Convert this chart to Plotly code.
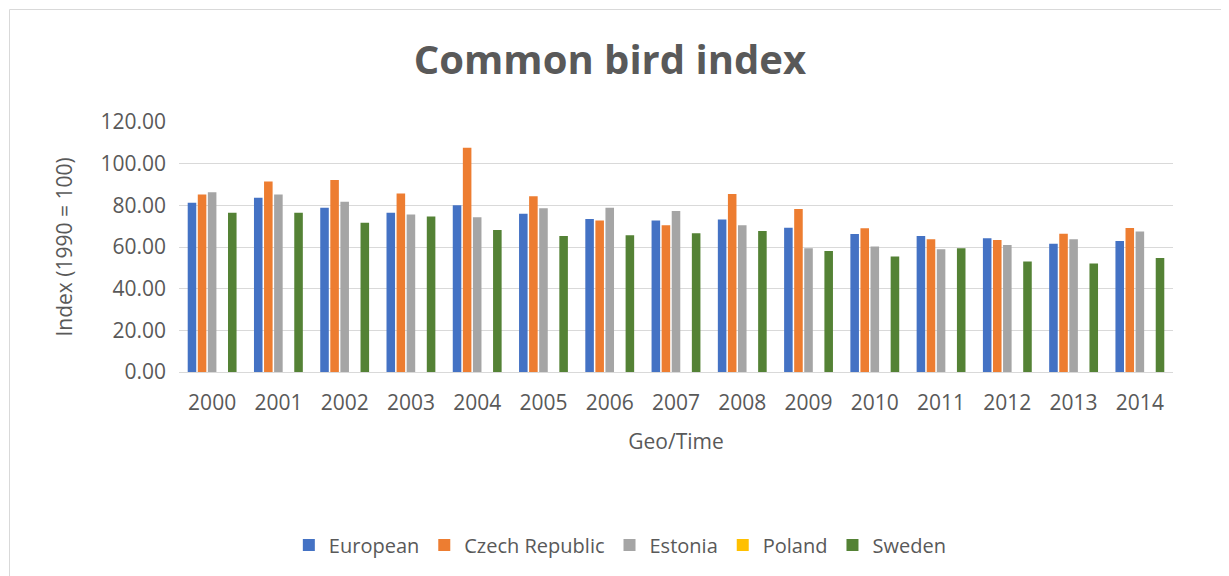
import plotly.graph_objects as go

years = [str(y) for y in range(2000, 2015)]
european = [81.2, 83.7, 78.9, 76.4, 80.1, 76.0, 73.5, 72.7, 73.2, 69.3, 66.3, 65.3, 64.2, 61.6, 62.9]
czech = [85.2, 91.4, 92.2, 85.7, 107.7, 84.4, 72.7, 70.4, 85.4, 78.3, 69.0, 63.7, 63.4, 66.4, 69.1]
estonia = [86.3, 85.2, 81.7, 75.6, 74.3, 78.6, 78.9, 77.3, 70.4, 59.4, 60.2, 58.9, 61.0, 63.7, 67.4]
poland = [None] * 15
sweden = [76.5, 76.5, 71.6, 74.6, 68.2, 65.3, 65.6, 66.6, 67.7, 58.1, 55.4, 59.4, 53.1, 52.1, 54.7]

series = [
    ("European", european, "#4472C4"),
    ("Czech Republic", czech, "#ED7D31"),
    ("Estonia", estonia, "#A5A5A5"),
    ("Poland", poland, "#FFC000"),
    ("Sweden", sweden, "#548235"),
]

FONT = "Open Sans, Liberation Sans, sans-serif"
GREY = "#595959"
fig = go.Figure()
for name, vals, col in series:
    fig.add_trace(go.Bar(x=years, y=vals, name=name, marker_color=col,
                         marker_line_width=0))

fig.update_layout(
    width=1221, height=568,
    margin=dict(l=171, r=56, t=114, b=204),
    paper_bgcolor="white", plot_bgcolor="white",
    barmode="group", bargap=0.24, bargroupgap=0.15,
    font=dict(family=FONT, color=GREY, size=20),
    title=dict(text="<b>Common bird index</b>", x=0.493, xanchor="center",
               y=0.908, yanchor="middle",
               font=dict(size=40, color=GREY, family=FONT)),
    legend=dict(orientation="h", x=0.444, xanchor="center", y=-0.692,
                yanchor="middle", font=dict(size=20, color=GREY),
                itemwidth=30, traceorder="normal"),
    showlegend=True,
)
fig.update_yaxes(range=[0, 120], dtick=20, tickformat=".2f",
                 gridcolor="#D9D9D9", gridwidth=1, zeroline=False,
                 showline=False, ticklabelstandoff=12,
                 title=dict(text="Index (1990 = 100)", standoff=22,
                            font=dict(size=21, color=GREY)),
                 tickfont=dict(size=21, color=GREY))
fig.update_xaxes(type="category", showline=True, linecolor="#D9D9D9",
                 linewidth=1, ticks="", ticklabelstandoff=12,
                 tickfont=dict(size=21, color=GREY),
                 title=dict(text="Geo/Time", standoff=19,
                            font=dict(size=21, color=GREY)))
fig.add_shape(type="rect", xref="paper", yref="paper",
              x0=-0.1705, x1=1.0488, y0=-0.85, y1=1.45,
              line=dict(color="#D9D9D9", width=1), fillcolor="rgba(0,0,0,0)",
              layer="below")
fig.write_html("out.html")
